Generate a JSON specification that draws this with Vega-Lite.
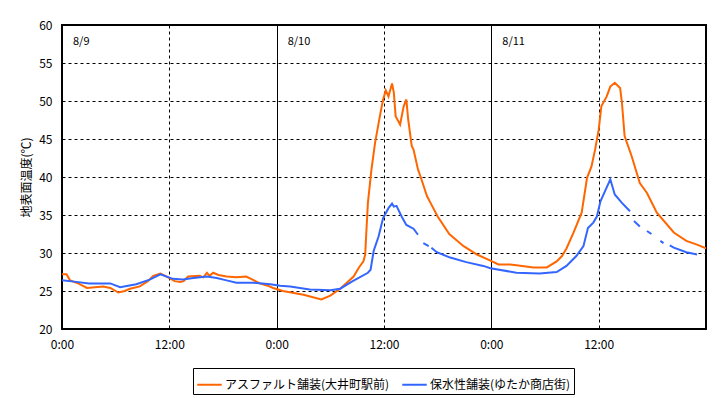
{
  "$schema": "https://vega.github.io/schema/vega-lite/v6.json",
  "autosize": "none",
  "width": 644,
  "height": 304,
  "padding": {"left": 62, "top": 25, "right": 15, "bottom": 69},
  "background": "white",
  "config": {
    "font": "Noto Sans CJK JP",
    "view": {"stroke": "black", "strokeWidth": 2},
    "axis": {"labelFont": "Noto Sans CJK JP", "titleFont": "Noto Sans CJK JP", "labelColor": "black", "titleColor": "black"}
  },
  "layer": [
    {
      "data": {"values": [
        {"t": 0, "temp": 27.2, "series": "アスファルト舗装(大井町駅前)"},
        {"t": 0.5, "temp": 27.2, "series": "アスファルト舗装(大井町駅前)"},
        {"t": 0.9, "temp": 26.4, "series": "アスファルト舗装(大井町駅前)"},
        {"t": 1.8, "temp": 26.0, "series": "アスファルト舗装(大井町駅前)"},
        {"t": 2.8, "temp": 25.4, "series": "アスファルト舗装(大井町駅前)"},
        {"t": 3.7, "temp": 25.5, "series": "アスファルト舗装(大井町駅前)"},
        {"t": 4.6, "temp": 25.6, "series": "アスファルト舗装(大井町駅前)"},
        {"t": 5.4, "temp": 25.4, "series": "アスファルト舗装(大井町駅前)"},
        {"t": 6.3, "temp": 24.8, "series": "アスファルト舗装(大井町駅前)"},
        {"t": 7.0, "temp": 25.0, "series": "アスファルト舗装(大井町駅前)"},
        {"t": 7.6, "temp": 25.3, "series": "アスファルト舗装(大井町駅前)"},
        {"t": 8.7, "temp": 25.6, "series": "アスファルト舗装(大井町駅前)"},
        {"t": 9.6, "temp": 26.3, "series": "アスファルト舗装(大井町駅前)"},
        {"t": 10.2, "temp": 27.0, "series": "アスファルト舗装(大井町駅前)"},
        {"t": 11.0, "temp": 27.3, "series": "アスファルト舗装(大井町駅前)"},
        {"t": 11.7, "temp": 26.9, "series": "アスファルト舗装(大井町駅前)"},
        {"t": 12.6, "temp": 26.3, "series": "アスファルト舗装(大井町駅前)"},
        {"t": 13.2, "temp": 26.2, "series": "アスファルト舗装(大井町駅前)"},
        {"t": 13.6, "temp": 26.3, "series": "アスファルト舗装(大井町駅前)"},
        {"t": 14.1, "temp": 26.9, "series": "アスファルト舗装(大井町駅前)"},
        {"t": 15.4, "temp": 27.0, "series": "アスファルト舗装(大井町駅前)"},
        {"t": 15.8, "temp": 26.8, "series": "アスファルト舗装(大井町駅前)"},
        {"t": 16.2, "temp": 27.4, "series": "アスファルト舗装(大井町駅前)"},
        {"t": 16.5, "temp": 27.0, "series": "アスファルト舗装(大井町駅前)"},
        {"t": 16.9, "temp": 27.4, "series": "アスファルト舗装(大井町駅前)"},
        {"t": 17.5, "temp": 27.1, "series": "アスファルト舗装(大井町駅前)"},
        {"t": 18.4, "temp": 26.9, "series": "アスファルト舗装(大井町駅前)"},
        {"t": 19.5, "temp": 26.8, "series": "アスファルト舗装(大井町駅前)"},
        {"t": 20.6, "temp": 26.9, "series": "アスファルト舗装(大井町駅前)"},
        {"t": 21.3, "temp": 26.5, "series": "アスファルト舗装(大井町駅前)"},
        {"t": 22.1, "temp": 26.0, "series": "アスファルト舗装(大井町駅前)"},
        {"t": 23.0, "temp": 25.7, "series": "アスファルト舗装(大井町駅前)"},
        {"t": 23.6, "temp": 25.4, "series": "アスファルト舗装(大井町駅前)"},
        {"t": 24.7, "temp": 25.0, "series": "アスファルト舗装(大井町駅前)"},
        {"t": 27.0, "temp": 24.5, "series": "アスファルト舗装(大井町駅前)"},
        {"t": 29.0, "temp": 23.9, "series": "アスファルト舗装(大井町駅前)"},
        {"t": 30.0, "temp": 24.4, "series": "アスファルト舗装(大井町駅前)"},
        {"t": 31.1, "temp": 25.3, "series": "アスファルト舗装(大井町駅前)"},
        {"t": 32.6, "temp": 26.9, "series": "アスファルト舗装(大井町駅前)"},
        {"t": 33.2, "temp": 28.1, "series": "アスファルト舗装(大井町駅前)"},
        {"t": 33.7, "temp": 28.9, "series": "アスファルト舗装(大井町駅前)"},
        {"t": 33.9, "temp": 29.8, "series": "アスファルト舗装(大井町駅前)"},
        {"t": 34.0, "temp": 32.2, "series": "アスファルト舗装(大井町駅前)"},
        {"t": 34.2, "temp": 36.6, "series": "アスファルト舗装(大井町駅前)"},
        {"t": 34.6, "temp": 41.0, "series": "アスファルト舗装(大井町駅前)"},
        {"t": 35.0, "temp": 44.5, "series": "アスファルト舗装(大井町駅前)"},
        {"t": 35.6, "temp": 48.4, "series": "アスファルト舗装(大井町駅前)"},
        {"t": 35.9, "temp": 50.2, "series": "アスファルト舗装(大井町駅前)"},
        {"t": 36.2, "temp": 51.4, "series": "アスファルト舗装(大井町駅前)"},
        {"t": 36.5, "temp": 50.6, "series": "アスファルト舗装(大井町駅前)"},
        {"t": 36.9, "temp": 52.3, "series": "アスファルト舗装(大井町駅前)"},
        {"t": 37.1, "temp": 51.1, "series": "アスファルト舗装(大井町駅前)"},
        {"t": 37.3, "temp": 48.0, "series": "アスファルト舗装(大井町駅前)"},
        {"t": 37.8, "temp": 46.9, "series": "アスファルト舗装(大井町駅前)"},
        {"t": 38.2, "temp": 49.3, "series": "アスファルト舗装(大井町駅前)"},
        {"t": 38.5, "temp": 50.2, "series": "アスファルト舗装(大井町駅前)"},
        {"t": 38.7, "temp": 47.6, "series": "アスファルト舗装(大井町駅前)"},
        {"t": 39.1, "temp": 44.1, "series": "アスファルト舗装(大井町駅前)"},
        {"t": 39.3, "temp": 43.6, "series": "アスファルト舗装(大井町駅前)"},
        {"t": 39.8, "temp": 41.0, "series": "アスファルト舗装(大井町駅前)"},
        {"t": 40.1, "temp": 40.0, "series": "アスファルト舗装(大井町駅前)"},
        {"t": 40.8, "temp": 37.5, "series": "アスファルト舗装(大井町駅前)"},
        {"t": 41.2, "temp": 36.6, "series": "アスファルト舗装(大井町駅前)"},
        {"t": 42.0, "temp": 34.8, "series": "アスファルト舗装(大井町駅前)"},
        {"t": 43.3, "temp": 32.5, "series": "アスファルト舗装(大井町駅前)"},
        {"t": 44.9, "temp": 30.9, "series": "アスファルト舗装(大井町駅前)"},
        {"t": 46.4, "temp": 29.8, "series": "アスファルト舗装(大井町駅前)"},
        {"t": 47.9, "temp": 29.0, "series": "アスファルト舗装(大井町駅前)"},
        {"t": 48.8, "temp": 28.5, "series": "アスファルト舗装(大井町駅前)"},
        {"t": 50.1, "temp": 28.5, "series": "アスファルト舗装(大井町駅前)"},
        {"t": 50.8, "temp": 28.4, "series": "アスファルト舗装(大井町駅前)"},
        {"t": 52.7, "temp": 28.1, "series": "アスファルト舗装(大井町駅前)"},
        {"t": 54.2, "temp": 28.1, "series": "アスファルト舗装(大井町駅前)"},
        {"t": 55.3, "temp": 28.9, "series": "アスファルト舗装(大井町駅前)"},
        {"t": 55.9, "temp": 29.6, "series": "アスファルト舗装(大井町駅前)"},
        {"t": 56.4, "temp": 30.6, "series": "アスファルト舗装(大井町駅前)"},
        {"t": 57.2, "temp": 32.7, "series": "アスファルト舗装(大井町駅前)"},
        {"t": 58.1, "temp": 35.3, "series": "アスファルト舗装(大井町駅前)"},
        {"t": 58.7, "temp": 39.9, "series": "アスファルト舗装(大井町駅前)"},
        {"t": 59.2, "temp": 41.4, "series": "アスファルト舗装(大井町駅前)"},
        {"t": 59.6, "temp": 43.6, "series": "アスファルト舗装(大井町駅前)"},
        {"t": 60.0, "temp": 46.2, "series": "アスファルト舗装(大井町駅前)"},
        {"t": 60.3, "temp": 49.3, "series": "アスファルト舗装(大井町駅前)"},
        {"t": 60.9, "temp": 50.6, "series": "アスファルト舗装(大井町駅前)"},
        {"t": 61.3, "temp": 51.9, "series": "アスファルト舗装(大井町駅前)"},
        {"t": 61.8, "temp": 52.4, "series": "アスファルト舗装(大井町駅前)"},
        {"t": 62.4, "temp": 51.7, "series": "アスファルト舗装(大井町駅前)"},
        {"t": 62.6, "temp": 49.8, "series": "アスファルト舗装(大井町駅前)"},
        {"t": 62.9, "temp": 45.4, "series": "アスファルト舗装(大井町駅前)"},
        {"t": 63.7, "temp": 42.7, "series": "アスファルト舗装(大井町駅前)"},
        {"t": 64.6, "temp": 39.2, "series": "アスファルト舗装(大井町駅前)"},
        {"t": 65.4, "temp": 37.9, "series": "アスファルト舗装(大井町駅前)"},
        {"t": 66.5, "temp": 35.3, "series": "アスファルト舗装(大井町駅前)"},
        {"t": 68.4, "temp": 32.7, "series": "アスファルト舗装(大井町駅前)"},
        {"t": 69.8, "temp": 31.6, "series": "アスファルト舗装(大井町駅前)"},
        {"t": 71.0, "temp": 31.1, "series": "アスファルト舗装(大井町駅前)"},
        {"t": 72.0, "temp": 30.6, "series": "アスファルト舗装(大井町駅前)"},
        {"t": 0, "temp": 26.4, "series": "保水性舗装(ゆたか商店街)"},
        {"t": 1.6, "temp": 26.2, "series": "保水性舗装(ゆたか商店街)"},
        {"t": 3.0, "temp": 26.0, "series": "保水性舗装(ゆたか商店街)"},
        {"t": 5.4, "temp": 26.0, "series": "保水性舗装(ゆたか商店街)"},
        {"t": 6.5, "temp": 25.5, "series": "保水性舗装(ゆたか商店街)"},
        {"t": 8.3, "temp": 25.9, "series": "保水性舗装(ゆたか商店街)"},
        {"t": 9.8, "temp": 26.5, "series": "保水性舗装(ゆたか商店街)"},
        {"t": 11.0, "temp": 27.2, "series": "保水性舗装(ゆたか商店街)"},
        {"t": 12.4, "temp": 26.6, "series": "保水性舗装(ゆたか商店街)"},
        {"t": 13.5, "temp": 26.5, "series": "保水性舗装(ゆたか商店街)"},
        {"t": 14.7, "temp": 26.7, "series": "保水性舗装(ゆたか商店街)"},
        {"t": 16.2, "temp": 26.9, "series": "保水性舗装(ゆたか商店街)"},
        {"t": 17.3, "temp": 26.7, "series": "保水性舗装(ゆたか商店街)"},
        {"t": 18.4, "temp": 26.4, "series": "保水性舗装(ゆたか商店街)"},
        {"t": 19.5, "temp": 26.1, "series": "保水性舗装(ゆたか商店街)"},
        {"t": 21.4, "temp": 26.1, "series": "保水性舗装(ゆたか商店街)"},
        {"t": 23.3, "temp": 25.9, "series": "保水性舗装(ゆたか商店街)"},
        {"t": 24.4, "temp": 25.7, "series": "保水性舗装(ゆたか商店街)"},
        {"t": 25.5, "temp": 25.6, "series": "保水性舗装(ゆたか商店街)"},
        {"t": 27.7, "temp": 25.2, "series": "保水性舗装(ゆたか商店街)"},
        {"t": 30.0, "temp": 25.1, "series": "保水性舗装(ゆたか商店街)"},
        {"t": 31.1, "temp": 25.3, "series": "保水性舗装(ゆたか商店街)"},
        {"t": 32.5, "temp": 26.3, "series": "保水性舗装(ゆたか商店街)"},
        {"t": 34.2, "temp": 27.4, "series": "保水性舗装(ゆたか商店街)"},
        {"t": 34.5, "temp": 27.8, "series": "保水性舗装(ゆたか商店街)"},
        {"t": 34.85, "temp": 30.3, "series": "保水性舗装(ゆたか商店街)"},
        {"t": 35.4, "temp": 32.2, "series": "保水性舗装(ゆたか商店街)"},
        {"t": 35.9, "temp": 34.6, "series": "保水性舗装(ゆたか商店街)"},
        {"t": 36.5, "temp": 35.9, "series": "保水性舗装(ゆたか商店街)"},
        {"t": 36.9, "temp": 36.5, "series": "保水性舗装(ゆたか商店街)"},
        {"t": 37.1, "temp": 36.1, "series": "保水性舗装(ゆたか商店街)"},
        {"t": 37.4, "temp": 36.2, "series": "保水性舗装(ゆたか商店街)"},
        {"t": 37.97, "temp": 34.8, "series": "保水性舗装(ゆたか商店街)"},
        {"t": 38.5, "temp": 33.7, "series": "保水性舗装(ゆたか商店街)"},
        {"t": 39.3, "temp": 33.2, "series": "保水性舗装(ゆたか商店街)"},
        {"t": 39.8, "temp": 32.4, "series": "保水性舗装(ゆたか商店街)"},
        {"t": 40.1, "temp": null, "series": "保水性舗装(ゆたか商店街)"},
        {"t": 40.4, "temp": 31.3, "series": "保水性舗装(ゆたか商店街)"},
        {"t": 41.0, "temp": 30.9, "series": "保水性舗装(ゆたか商店街)"},
        {"t": 41.15, "temp": null, "series": "保水性舗装(ゆたか商店街)"},
        {"t": 41.3, "temp": 30.7, "series": "保水性舗装(ゆたか商店街)"},
        {"t": 41.9, "temp": 30.1, "series": "保水性舗装(ゆたか商店街)"},
        {"t": 43.4, "temp": 29.4, "series": "保水性舗装(ゆたか商店街)"},
        {"t": 45.2, "temp": 28.8, "series": "保水性舗装(ゆたか商店街)"},
        {"t": 47.1, "temp": 28.3, "series": "保水性舗装(ゆたか商店街)"},
        {"t": 47.9, "temp": 28.0, "series": "保水性舗装(ゆたか商店街)"},
        {"t": 50.8, "temp": 27.4, "series": "保水性舗装(ゆたか商店街)"},
        {"t": 53.4, "temp": 27.3, "series": "保水性舗装(ゆたか商店街)"},
        {"t": 55.3, "temp": 27.5, "series": "保水性舗装(ゆたか商店街)"},
        {"t": 56.4, "temp": 28.3, "series": "保水性舗装(ゆたか商店街)"},
        {"t": 57.5, "temp": 29.6, "series": "保水性舗装(ゆたか商店街)"},
        {"t": 58.3, "temp": 30.9, "series": "保水性舗装(ゆたか商店街)"},
        {"t": 58.8, "temp": 33.3, "series": "保水性舗装(ゆたか商店街)"},
        {"t": 59.4, "temp": 34.0, "series": "保水性舗装(ゆたか商店街)"},
        {"t": 59.8, "temp": 34.8, "series": "保水性舗装(ゆたか商店街)"},
        {"t": 60.2, "temp": 36.8, "series": "保水性舗装(ゆたか商店街)"},
        {"t": 60.7, "temp": 38.1, "series": "保水性舗装(ゆたか商店街)"},
        {"t": 61.3, "temp": 39.7, "series": "保水性舗装(ゆたか商店街)"},
        {"t": 61.8, "temp": 37.7, "series": "保水性舗装(ゆたか商店街)"},
        {"t": 62.6, "temp": 36.6, "series": "保水性舗装(ゆたか商店街)"},
        {"t": 63.5, "temp": 35.5, "series": "保水性舗装(ゆたか商店街)"},
        {"t": 63.75, "temp": null, "series": "保水性舗装(ゆたか商店街)"},
        {"t": 63.95, "temp": 34.2, "series": "保水性舗装(ゆたか商店街)"},
        {"t": 64.6, "temp": 33.5, "series": "保水性舗装(ゆたか商店街)"},
        {"t": 65.0, "temp": null, "series": "保水性舗装(ゆたか商店街)"},
        {"t": 65.4, "temp": 32.9, "series": "保水性舗装(ゆたか商店街)"},
        {"t": 65.9, "temp": 32.5, "series": "保水性舗装(ゆたか商店街)"},
        {"t": 66.4, "temp": null, "series": "保水性舗装(ゆたか商店街)"},
        {"t": 66.9, "temp": 31.6, "series": "保水性舗装(ゆたか商店街)"},
        {"t": 67.25, "temp": 31.3, "series": "保水性舗装(ゆたか商店街)"},
        {"t": 67.6, "temp": null, "series": "保水性舗装(ゆたか商店街)"},
        {"t": 67.95, "temp": 31.0, "series": "保水性舗装(ゆたか商店街)"},
        {"t": 68.4, "temp": 30.7, "series": "保水性舗装(ゆたか商店街)"},
        {"t": 69.8, "temp": 30.1, "series": "保水性舗装(ゆたか商店街)"},
        {"t": 71.0, "temp": 29.8, "series": "保水性舗装(ゆたか商店街)"}
      ]},
      "mark": {"type": "line", "strokeWidth": 2, "invalid": "break-paths-filter-domains", "clip": true},
      "encoding": {
        "x": {
          "field": "t", "type": "quantitative",
          "scale": {"domain": [0, 72], "nice": false, "zero": false},
          "axis": {
            "title": null, "values": [0, 12, 24, 36, 48, 60],
            "labelExpr": "datum.value % 24 === 0 ? '0:00' : '12:00'",
            "ticks": false, "domain": false, "labelPadding": 10, "labelFontSize": 12,
            "labelFlush": false,
            "grid": true, "gridColor": "black", "gridOpacity": 1, "gridWidth": 1,
            "gridDash": {"condition": {"test": "datum.value % 24 === 0", "value": []}, "value": [3, 3]}
          }
        },
        "y": {
          "field": "temp", "type": "quantitative",
          "scale": {"domain": [20, 60], "nice": false, "zero": false},
          "axis": {
            "title": "地表面温度(℃)", "values": [20, 25, 30, 35, 40, 45, 50, 55, 60],
            "ticks": false, "domain": false, "labelPadding": 10, "labelFontSize": 12,
            "titleFontSize": 12, "titleFontWeight": "normal", "titlePadding": 5,
            "grid": true, "gridColor": "black", "gridOpacity": 1, "gridWidth": 1, "gridDash": [3, 3]
          }
        },
        "color": {
          "field": "series", "type": "nominal",
          "scale": {"domain": ["アスファルト舗装(大井町駅前)", "保水性舗装(ゆたか商店街)"], "range": ["#FF6600", "#3366FF"]},
          "legend": {
            "title": null, "orient": "none", "legendX": 131, "legendY": 343,
            "direction": "horizontal", "symbolType": "stroke", "symbolSize": 600,
            "symbolStrokeWidth": 2, "labelFontSize": 12, "labelColor": "black",
            "labelLimit": 0,
            "strokeColor": "black", "fillColor": "white", "padding": 3,
            "columnPadding": 8, "labelOffset": 2
          }
        }
      }
    },
    {
      "data": {"values": [
        {"t": 0, "label": "8/9"},
        {"t": 24, "label": "8/10"},
        {"t": 48, "label": "8/11"}
      ]},
      "mark": {"type": "text", "align": "left", "baseline": "middle", "dx": 11, "fontSize": 11, "color": "black"},
      "encoding": {
        "x": {"field": "t", "type": "quantitative"},
        "y": {"value": 17},
        "text": {"field": "label"}
      }
    }
  ]
}
